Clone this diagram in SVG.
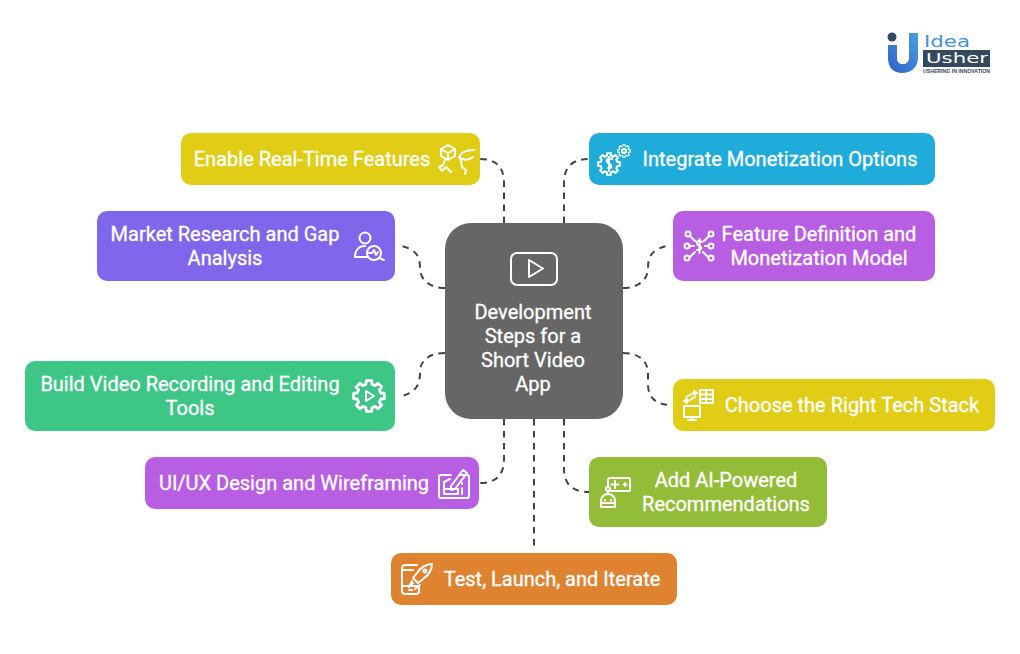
<svg xmlns="http://www.w3.org/2000/svg" xmlns:xlink="http://www.w3.org/1999/xlink" width="1020" height="654" viewBox="0 0 1020 654">
<style>
.t{font-family:Roboto,"Liberation Sans",sans-serif;font-size:20px;font-weight:400;fill:#fff;stroke:#fff;stroke-width:.3;text-anchor:middle}
.i{fill:none;stroke:#fff;stroke-width:2;stroke-linecap:round;stroke-linejoin:round;vector-effect:non-scaling-stroke}
.c{fill:none;stroke:#444;stroke-width:2;stroke-dasharray:6.500 5.500}
</style>
<defs><path id="gear" d="M10.83 -1.91L10.83 1.91L8.25 2.06L7.29 4.38L9.01 6.31L6.31 9.01L4.38 7.29L2.06 8.25L1.91 10.83L-1.91 10.83L-2.06 8.25L-4.38 7.29L-6.31 9.01L-9.01 6.31L-7.29 4.38L-8.25 2.06L-10.83 1.91L-10.83 -1.91L-8.25 -2.06L-7.29 -4.38L-9.01 -6.31L-6.31 -9.01L-4.38 -7.29L-2.06 -8.25L-1.91 -10.83L1.91 -10.83L2.06 -8.25L4.38 -7.29L6.31 -9.01L9.01 -6.31L7.29 -4.38L8.25 -2.06Z"/>
<linearGradient id="u" x1="0" y1="1" x2="1" y2="0"><stop offset="0" stop-color="#2f62c8"/><stop offset="1" stop-color="#47a0e0"/></linearGradient></defs>
<rect width="1020" height="654" fill="#fff"/>
<g id="connectors">
<path class="c" d="M504 223V183C504 167 496 159 480 159"/>
<path class="c" d="M564 223V183C564 167 572 159 589 159"/>
<path class="c" d="M445 288C430 288 420 280 420 268C420 256 416 250 402 246"/>
<path class="c" d="M623 288C638 288 648 280 648 268C648 256 652 250 666 246"/>
<path class="c" d="M445 353C430 353 420 360 420 372C420 385 416 392 402 396"/>
<path class="c" d="M623 353C638 353 648 360 648 374V384C648 398 656 405 672 405"/>
<path class="c" d="M504 419V459C504 475 496 483 480 483"/>
<path class="c" d="M564 419V468C564 484 572 492 589 492"/>
<path class="c" d="M534 419V546"/>
</g>
<g id="center"><rect x="445" y="223" width="178" height="196" rx="26" fill="#666"/>
<rect class="i" x="511" y="253" width="46" height="32" rx="6"/><path class="i" d="M529 260V277L543 268.500Z"/>
<text class="t" x="533" y="319">Development</text><text class="t" x="533" y="343">Steps for a</text><text class="t" x="533" y="367">Short Video</text><text class="t" x="533" y="391">App</text></g>
<g id="enable"><rect x="181" y="133" width="299" height="52" rx="10" fill="#e1cd15"/><text class="t" x="312" y="166">Enable Real-Time Features</text>
<path class="i" d="M441 149L448 145L455 149V156L448 160L441 156ZM441 149L448 153L455 149M448 153V160M445 160L443 165L439 167L442 171L446 167L451 172M459 157C461 152 467 150 474 150M459 157C464 161 469 160 473 157M460 159C464 163 459 165 463 168L466 170L465 174"/></g>
<g id="integrate"><rect x="589" y="133" width="346" height="52" rx="10" fill="#1facdb"/><text class="t" x="780" y="166">Integrate Monetization Options</text>
<use class="i" href="#gear" transform="translate(609 164)"/>
<path class="i" d="M612 159C608 157 605 160 608 163C612 165 613 169 608 168M609 157V171"/>
<use class="i" href="#gear" transform="translate(624 151) scale(.58)"/><circle class="i" cx="624" cy="151" r="2"/></g>
<g id="market"><rect x="97" y="211" width="298" height="70" rx="10" fill="#7f66ea"/><text class="t" x="225" y="241">Market Research and Gap</text><text class="t" x="225" y="265">Analysis</text>
<circle class="i" cx="365" cy="238" r="5.500"/><path class="i" d="M355 257C355 250 359 246 365 246M355 257H367"/><circle class="i" cx="374" cy="253" r="7"/><path class="i" d="M369 253L372 253L374 250L376 255L378 252M379 258L384 260"/></g>
<g id="feature"><rect x="673" y="211" width="262" height="70" rx="10" fill="#b85ee3"/><text class="t" x="819" y="241">Feature Definition and</text><text class="t" x="819" y="265">Monetization Model</text>
<circle class="i" cx="688" cy="234" r="2.500"/><circle class="i" cx="711" cy="234" r="2.500"/><circle class="i" cx="687" cy="246" r="2.500"/><circle class="i" cx="711" cy="246" r="2.500"/><circle class="i" cx="687" cy="258" r="2.500"/><circle class="i" cx="711" cy="258" r="2.500"/><path class="i" d="M690 236L695 241M709 236L704 241M690 246H694M705 246H708M690 257L695 252M708 257L703 252M702 242C698 239 695 242 698 245C702 247 703 250 697 250M699.500 239V253"/></g>
<g id="build"><rect x="25" y="361" width="370" height="70" rx="10" fill="#3dc686"/><text class="t" x="190" y="391">Build Video Recording and Editing</text><text class="t" x="190" y="415">Tools</text>
<use class="i" href="#gear" transform="translate(369 396) scale(1.42)"/><path class="i" d="M366 391V401L374 396Z"/></g>
<g id="stack"><rect x="673" y="379" width="322" height="52" rx="10" fill="#e1cd15"/><text class="t" x="852" y="412">Choose the Right Tech Stack</text>
<rect class="i" x="700" y="390" width="13" height="13"/><path class="i" d="M700 394.500H713M700 399H713M706 390V403M686 397L693 393H697M694 391L697 393L694 395M695 397L688 401H684M687 399L684 401L687 403"/><rect class="i" x="684" y="406" width="16" height="11"/><path class="i" d="M692 417V420M688 420H696"/></g>
<g id="uiux"><rect x="145" y="457" width="334" height="52" rx="10" fill="#b85ee3"/><text class="t" x="294" y="490">UI/UX Design and Wireframing</text>
<path class="i" d="M460 475H467C468 475 469 476 469 477V496C469 497 468 498 467 498H441C440 498 439 497 439 496V477C439 476 440 475 441 475H451"/><path class="i" d="M451 486L463 470L467 473L455 489L451 490ZM444 489V482L450 479M444 489H458V494H444ZM462 488V494M462 483V484"/></g>
<g id="ai"><rect x="589" y="457" width="238" height="70" rx="10" fill="#93bd38"/><text class="t" x="726" y="487">Add AI-Powered</text><text class="t" x="726" y="511">Recommendations</text>
<path class="i" d="M608 486V480C608 479 609 478 610 478H629C630 478 630 479 630 480V489C630 490 630 491 629 491H611"/><path class="i" d="M615 481V488M611.500 484.500H618.500M625 483V486M623.500 484.500H626.500"/><circle class="i" cx="608" cy="489" r="2"/><path class="i" d="M608 491V494M601 507V501C601 497 604 494 608 494C612 494 615 497 615 501V507ZM601 503H615M605 500V500.500M611 500V500.500"/></g>
<g id="test"><rect x="391" y="553" width="286" height="52" rx="10" fill="#df8331"/><text class="t" x="552" y="586">Test, Launch, and Iterate</text>
<path class="i" d="M417 565H406C403 565 402 566 402 568V591C402 593 403 594 406 594H416C418 594 419 593 419 591V587M402 586H419M402 570H413M409 590H412"/><path class="i" d="M417 573C420 568 426 564 432 564C432 570 428 576 423 579L418 583L413 578ZM413 583L409 587L412 581M420 585L415 589"/><circle class="i" cx="425" cy="571" r="1.500"/></g>
<g id="logo"><circle cx="892" cy="37" r="4.500" fill="#35495e"/><path d="M888 45V58C888 68 894 73 902 73C910 73 918 68 918 58V33H909V58C909 62 906 64 903 64C899 64 897 62 897 58V45Z" fill="url(#u)"/>
<text x="924" y="47" font-family="'DejaVu Sans',sans-serif" font-size="15" fill="#3f93db" textLength="46" lengthAdjust="spacingAndGlyphs">Idea</text><rect x="923" y="50" width="67" height="17" fill="#35495e"/><text x="926" y="63" font-family="'DejaVu Sans',sans-serif" font-size="14" fill="#fff" textLength="62" lengthAdjust="spacingAndGlyphs">Usher</text><text x="923" y="73" font-family="'Liberation Sans',sans-serif" font-size="5" font-weight="700" fill="#35495e" textLength="67" lengthAdjust="spacingAndGlyphs">USHERING IN INNOVATION</text></g>
</svg>
